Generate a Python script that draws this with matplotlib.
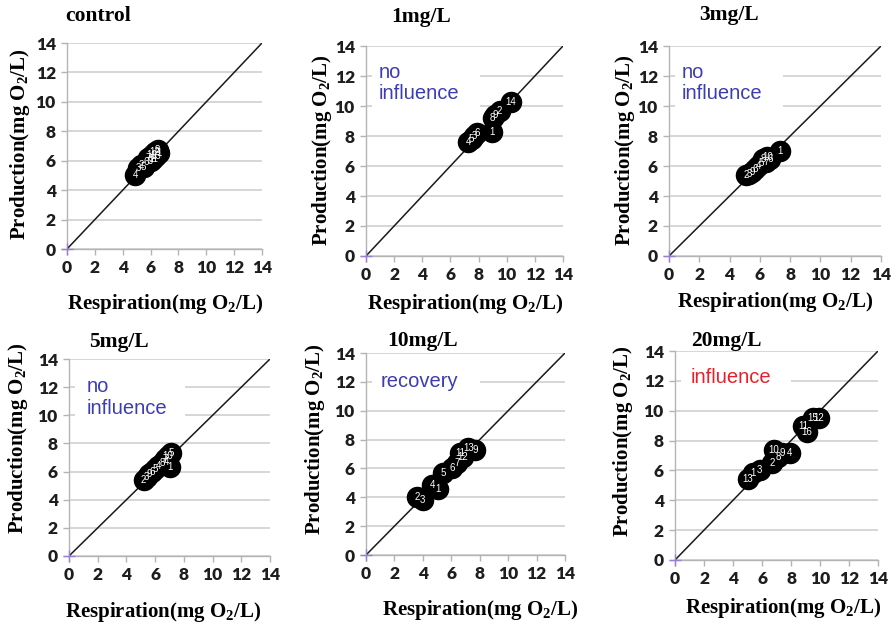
import matplotlib
matplotlib.use('Agg')
import matplotlib.pyplot as plt
from matplotlib.patches import Rectangle

W, H = 896, 628

# ---- data (respiration, production, day label) ----
ctrl_r = [4.9, 5.1, 5.3, 5.5, 5.7, 5.8, 6.0, 6.1, 6.2, 6.3, 6.4, 6.5, 6.6]
ctrl_p = [5.0, 5.5, 5.7, 5.6, 5.9, 6.2, 6.0, 6.4, 6.1, 6.6, 6.3, 6.7, 6.5]
ctrl_n = ['4', '3', '2', '5', '6', '7', '9', '10', '11', '12', '13', '8', '1']

mg1_r = [7.25, 7.5, 7.7, 7.9, 8.95, 9.0, 9.2, 9.5, 10.3]
mg1_p = [7.6, 7.8, 8.0, 8.2, 8.3, 9.2, 9.4, 9.7, 10.3]
mg1_n = ['4', '5', '3', '6', '1', '8', '9', '2', '14']

mg3_r = [5.1, 5.3, 5.5, 5.7, 5.9, 6.1, 6.2, 6.4, 6.5, 6.7, 7.3]
mg3_p = [5.4, 5.5, 5.6, 5.8, 6.0, 6.2, 6.5, 6.3, 6.6, 6.5, 7.0]
mg3_n = ['2', '3', '9', '6', '4', '5', '8', '7', '10', '6', '1']

mg5_r = [5.2, 5.4, 5.6, 5.8, 6.0, 6.2, 6.5, 6.7, 6.9, 7.1, 7.0, 6.8]
mg5_p = [5.4, 5.6, 5.8, 6.0, 6.2, 6.4, 6.6, 6.9, 7.1, 7.3, 6.3, 6.7]
mg5_n = ['2', '3', '9', '6', '5', '4', '8', '7', '10', '5', '1', '4']

mg10_r = [3.6, 4.0, 4.65, 5.1, 5.4, 6.05, 6.4, 6.6, 6.8, 7.2, 7.7]
mg10_p = [4.0, 3.8, 4.85, 4.6, 5.7, 6.0, 6.4, 7.1, 6.8, 7.4, 7.3]
mg10_n = ['2', '3', '4', '1', '5', '6', '7', '11', '12', '13', '9']

mg20_r = [5.0, 5.4, 5.85, 6.7, 6.8, 7.1, 7.4, 7.9, 8.85, 9.1, 9.5, 9.9]
mg20_p = [5.4, 5.8, 6.0, 6.5, 7.4, 6.9, 7.2, 7.2, 9.0, 8.6, 9.5, 9.5]
mg20_n = ['13', '1', '3', '2', '10', '8', '9', '4', '11', '16', '15', '12']

titles = ['control', '1mg/L', '3mg/L', '5mg/L', '10mg/L', '20mg/L']
notes = ['', 'no\ninfluence', 'no\ninfluence', 'no\ninfluence', 'recovery', 'influence']
note_colors = ['#3c3cb4', '#3c3cb4', '#3c3cb4', '#3c3cb4', '#3c3cb4', '#e8202a']
ticks = [0, 2, 4, 6, 8, 10, 12, 14]

panels = [(ctrl_r, ctrl_p, ctrl_n), (mg1_r, mg1_p, mg1_n), (mg3_r, mg3_p, mg3_n),
          (mg5_r, mg5_p, mg5_n), (mg10_r, mg10_p, mg10_n), (mg20_r, mg20_p, mg20_n)]

# ---- layout (pixels: left, right, top, bottom) ----
boxes = [(67, 262, 43, 249), (366, 563, 46, 256), (669, 881, 46, 256),
         (69, 270, 359, 556), (366, 565, 353, 555), (675, 878, 351, 560)]
title_pos = [(65, 16), (391, 17), (699, 15), (89, 342), (387, 341), (691, 341)]
ylab_pos = [(20, 144), (322, 150), (625, 150), (18, 438), (315, 439), (623, 441)]
xlab_pos = [(165, 304), (465, 304), (775, 302), (163, 612), (480, 610), (783, 608)]
note_xy = [(0, 0), (0.9, 12.9), (0.86, 12.9), (1.2, 12.7), (1.0, 12.05), (1.1, 12.2)]
note_box = [None, (0.4, 9.4, 7.7, 3.9), (0.4, 9.4, 7.1, 3.9), (0.4, 9.2, 7.7, 3.9),
            (0.4, 11.1, 7.6, 1.8), (0.4, 11.2, 7.6, 1.8)]

serif = 'Liberation Serif'
tickfont = 'Lato'
notefont = 'Liberation Sans'

plt.rcParams['mathtext.fontset'] = 'custom'
plt.rcParams['mathtext.rm'] = serif + ':bold'
plt.rcParams['mathtext.it'] = serif + ':bold'
plt.rcParams['mathtext.bf'] = serif + ':bold'

fig = plt.figure(figsize=(W / 100, H / 100), dpi=100)


def px(x, y):
    return x / W, 1 - y / H


for i, (r, p, n) in enumerate(panels):
    l, rr, t, b = boxes[i]
    ax = fig.add_axes([l / W, 1 - b / H, (rr - l) / W, (b - t) / H])
    ax.set_xlim(0, 14)
    ax.set_ylim(0, 14)
    ax.set_xticks(ticks)
    ax.set_yticks(ticks)
    ax.set_xticklabels([str(v) for v in ticks], family=tickfont, fontweight='heavy', fontsize=12.5)
    ax.set_yticklabels([str(v) for v in ticks], family=tickfont, fontweight='heavy', fontsize=12.5)
    ax.set_axisbelow(True)
    ax.grid(axis='y', color='#cfcfcf', lw=1.2)
    for s in ['top', 'right']:
        ax.spines[s].set_visible(False)
    for s in ['left', 'bottom']:
        ax.spines[s].set_color('#b4b4b4')
        ax.spines[s].set_linewidth(1.0)
    ax.tick_params(colors='#b4b4b4', length=4, width=1.0, labelcolor='#1e1e1e', pad=4)

    if note_box[i] is not None:
        bx, by, bw, bh = note_box[i]
        ax.add_patch(Rectangle((bx, by), bw, bh, facecolor='white', edgecolor='none', zorder=1))
        ax.text(note_xy[i][0], note_xy[i][1], notes[i], color=note_colors[i],
                fontsize=14.5, family=notefont, va='top' if '\n' in notes[i] else 'center',
                ha='left', linespacing=1.15, zorder=2)

    ax.plot([0, 14], [0, 14], color='#1a1a1a', lw=1.1, zorder=3)
    ax.plot([0], [0], marker='+', color='#9a80d0', ms=8, mew=1.0, zorder=3, clip_on=False)
    ax.scatter(r, p, s=210, color='black', zorder=4)
    for xx, yy, tt in zip(r, p, n):
        ax.text(xx, yy, tt, color='white', fontsize=7, ha='center', va='center',
                family='Liberation Sans', zorder=5)

    fig.text(*px(*title_pos[i]), titles[i], family=serif, fontweight='bold',
             fontsize=15.5, ha='left', va='center')
    fig.text(*px(*ylab_pos[i]), 'Production(mg O$_2$/L)', family=serif, fontweight='bold',
             fontsize=15, rotation=90, ha='center', va='center')
    fig.text(*px(*xlab_pos[i]), 'Respiration(mg O$_2$/L)', family=serif, fontweight='bold',
             fontsize=15, ha='center', va='center')

fig.savefig('out.png', dpi=100)
